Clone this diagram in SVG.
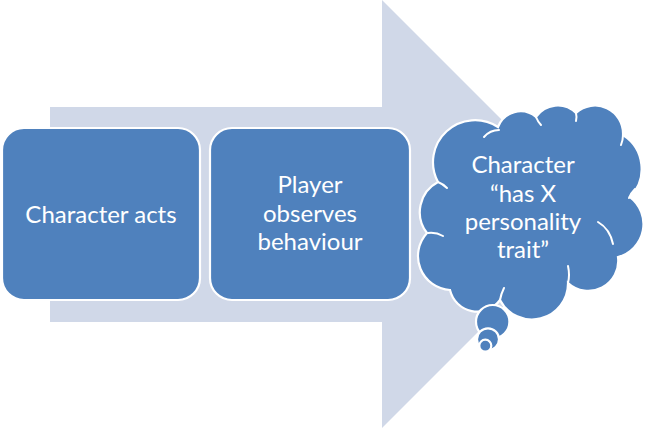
<svg xmlns="http://www.w3.org/2000/svg" width="646" height="429" viewBox="0 0 646 429">
  <style>
    .node { fill: #4F81BD; stroke: #FFFFFF; stroke-width: 2.2; }
    .inner { fill: none; stroke: #FFFFFF; stroke-width: 2; stroke-linecap: round; }
    .label { font-family: Lato, "Open Sans", "Liberation Sans", sans-serif; font-size: 24px; fill: #FFFFFF; text-anchor: middle; }
    .flow { fill: #D0D8E8; stroke: none; }
  </style>
  <rect width="646" height="429" fill="#FFFFFF"/>
  <g id="connectors">
    <polygon class="flow" points="50,107 382,107 382,0 596,214 382,428 382,322 50,322"/>
  </g>
  <g id="node-character-acts">
    <rect class="node" x="2" y="128" width="198" height="172" rx="22" ry="22"/>
    <text class="label" x="101" y="223">Character acts</text>
  </g>
  <g id="node-player-observes">
    <rect class="node" x="210" y="128" width="200" height="172" rx="22" ry="22"/>
    <text class="label" x="310" y="193">Player</text>
    <text class="label" x="310" y="222">observes</text>
    <text class="label" x="310" y="250">behaviour</text>
  </g>
  <g id="node-trait-cloud">
    <path class="node" d="M 438,182 A 42,42 0 0 1 498,127 A 24,24 0 0 1 536,117 A 26,26 0 0 1 576,113 A 28,28 0 0 1 623,135 A 40,40 0 0 1 630,197 A 34,34 0 0 1 618,257 A 30,30 0 0 1 568,283 A 36,36 0 0 1 500,300 A 28,28 0 0 1 450,290 A 34,34 0 0 1 427,233 A 34,34 0 0 1 438,182 Z"/>
    <path class="inner" d="M 484,137 Q 490,130 499,130"/>
    <path class="inner" d="M 536,117 Q 538,122 541,125"/>
    <path class="inner" d="M 576,113 Q 577,117 576,121"/>
    <path class="inner" d="M 623,135 Q 623,140 621,145"/>
    <path class="inner" d="M 629,198 Q 631,193 635,189"/>
    <path class="inner" d="M 598,222 Q 610,229 613,244"/>
    <path class="inner" d="M 568,283 Q 570,275 568,266"/>
    <path class="inner" d="M 500,300 Q 501,294 504,288"/>
    <path class="inner" d="M 428,233 Q 436,232 443,236"/>
    <path class="inner" d="M 438,182 Q 443,184 447,188"/>
    <circle class="node" cx="492.7" cy="321.7" r="16.7"/>
    <circle class="node" cx="488" cy="339.3" r="11"/>
    <circle class="node" cx="485.3" cy="345.7" r="6"/>
    <text class="label" x="523" y="173">Character</text>
    <text class="label" x="523" y="202">“has X</text>
    <text class="label" x="523" y="230">personality</text>
    <text class="label" x="523" y="258">trait”</text>
  </g>
</svg>
